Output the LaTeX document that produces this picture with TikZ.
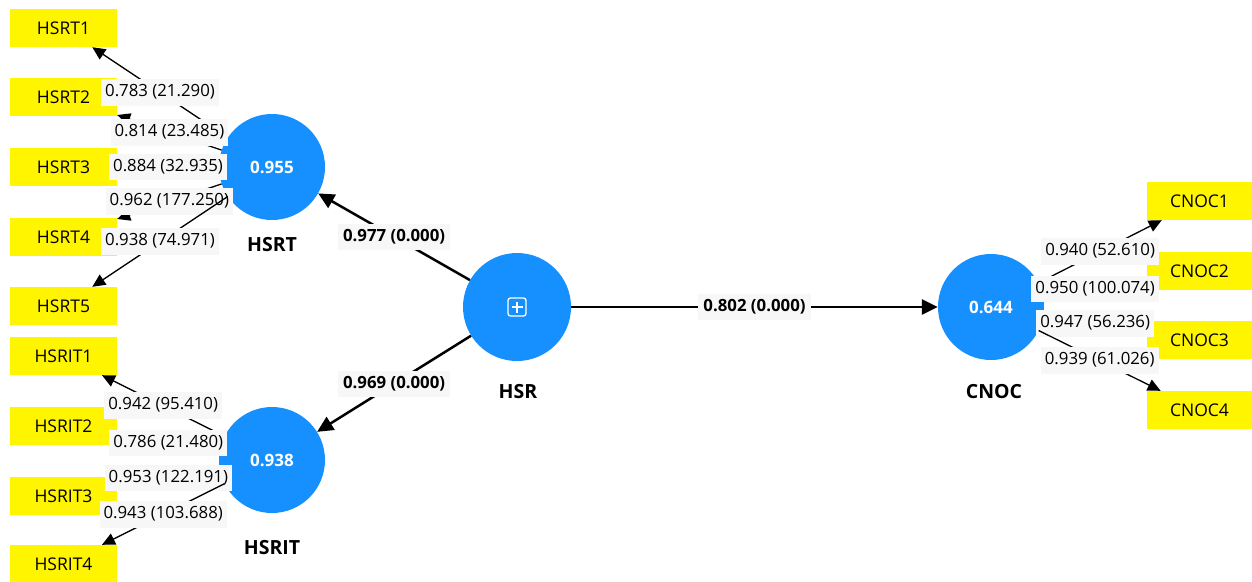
\documentclass[tikz,border=0pt]{standalone}
\usepackage{fontspec}
\setmainfont{Open Sans}
\usetikzlibrary{arrows.meta}
\definecolor{lvblue}{RGB}{22,144,255}
\definecolor{indy}{RGB}{255,245,0}
\definecolor{lblbg}{RGB}{247,247,247}
\tikzset{
  ind/.style={fill=indy, minimum width=107pt, minimum height=38pt, inner sep=0pt,
    font=\fontsize{17.5}{19}\selectfont},
  lv/.style={circle, fill=lvblue, minimum size=106pt, inner sep=0pt, text=white,
    font=\fontsize{17}{19}\selectfont\bfseries},
  lvname/.style={font=\fontsize{19.5}{21}\selectfont\bfseries, inner sep=1pt},
  ld/.style={fill=lblbg, inner xsep=4pt, inner ysep=5pt, text height=12.5pt, text depth=4pt,
    font=\fontsize{16.8}{18}\selectfont},
  pl/.style={fill=lblbg, inner xsep=5pt, inner ysep=5pt, text height=12.5pt, text depth=4pt,
    font=\fontsize{16.8}{18}\selectfont\bfseries},
  ldarrow/.style={line width=1.3pt, -{Triangle[length=13pt, width=12pt]}},
  plarrow/.style={line width=2.5pt, -{Triangle[length=16pt, width=15pt]}},
}
\begin{document}
\begin{tikzpicture}[x=1pt, y=-1pt]
\useasboundingbox (0,0) rectangle (1252,581);
% indicators
\node[ind] (HSRT1) at (63.5,28) {HSRT1};
\node[ind] (HSRT2) at (63.5,97) {HSRT2};
\node[ind] (HSRT3) at (63.5,167) {HSRT3};
\node[ind] (HSRT4) at (63.5,237) {HSRT4};
\node[ind] (HSRT5) at (63.5,306) {HSRT5};
\node[ind] (HSRIT1) at (63.5,356) {HSRIT1};
\node[ind] (HSRIT2) at (63.5,426) {HSRIT2};
\node[ind] (HSRIT3) at (63.5,496) {HSRIT3};
\node[ind] (HSRIT4) at (63.5,564) {HSRIT4};
\node[ind, minimum width=105pt] (CNOC1) at (1199.5,201) {CNOC1};
\node[ind, minimum width=105pt] (CNOC2) at (1199.5,271) {CNOC2};
\node[ind, minimum width=105pt] (CNOC3) at (1199.5,340) {CNOC3};
\node[ind, minimum width=105pt] (CNOC4) at (1199.5,410) {CNOC4};
% latent variables
\node[lv] (hsrt) at (272,167) {0.955};
\node[lv] (hsrit) at (272,460) {0.938};
\node[lv, minimum size=108pt] (hsr) at (517,307) {};
\node[lv] (cnoc) at (991,307) {0.644};
\draw[white, line width=1.3pt, rounded corners=2.5pt]
  ([shift={(-9,-9)}]hsr.center) rectangle ([shift={(9,9)}]hsr.center);
\draw[white, line width=1.3pt] ([xshift=-5.5]hsr.center) -- ([xshift=5.5]hsr.center)
  ([yshift=-5.5]hsr.center) -- ([yshift=5.5]hsr.center);
\node[lvname] (nhsrt) at (272,245) {HSRT};
\node[lvname] (nhsrit) at (272,548) {HSRIT};
\node[lvname] (nhsr) at (518,392) {HSR};
\node[lvname] (ncnoc) at (994,392) {CNOC};
% structural paths
\draw[plarrow] (hsr) -- node[pl] {0.977 (0.000)} (hsrt);
\draw[plarrow] (hsr) -- node[pl] {0.969 (0.000)} (hsrit);
\draw[plarrow] (hsr) -- node[pl] {0.802 (0.000)} (cnoc);
% loadings
\draw[ldarrow] (hsrt) -- node[ld] {0.783 (21.290)} (HSRT1);
\draw[ldarrow] (hsrt) -- node[ld] {0.814 (23.485)} (HSRT2);
\draw[ldarrow] (hsrt) -- node[ld] {0.884 (32.935)} (HSRT3);
\draw[ldarrow] (hsrt) -- node[ld] {0.962 (177.250)} (HSRT4);
\draw[ldarrow] (hsrt) -- node[ld] {0.938 (74.971)} (HSRT5);
\draw[ldarrow] (hsrit) -- node[ld] {0.942 (95.410)} (HSRIT1);
\draw[ldarrow] (hsrit) -- node[ld] {0.786 (21.480)} (HSRIT2);
\draw[ldarrow] (hsrit) -- node[ld] {0.953 (122.191)} (HSRIT3);
\draw[ldarrow] (hsrit) -- node[ld] {0.943 (103.688)} (HSRIT4);
\draw[ldarrow] (cnoc) -- node[ld] {0.940 (52.610)} (CNOC1);
\draw[ldarrow] (cnoc) -- node[ld] {0.950 (100.074)} (CNOC2);
\draw[ldarrow] (cnoc) -- node[ld] {0.947 (56.236)} (CNOC3);
\draw[ldarrow] (cnoc) -- node[ld] {0.939 (61.026)} (CNOC4);
\end{tikzpicture}
\end{document}
